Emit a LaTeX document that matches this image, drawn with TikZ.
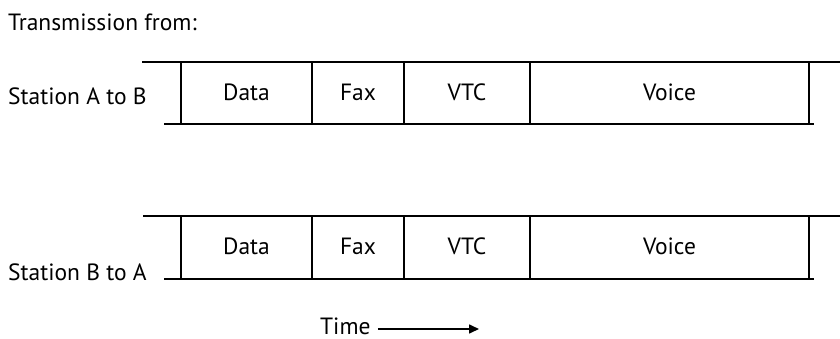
\documentclass[tikz,border=0pt]{standalone}
\usepackage{fontspec}
\setmainfont{PT Sans}
\usetikzlibrary{arrows.meta}
\begin{document}
\begin{tikzpicture}[x=1pt,y=-1pt,
  lbl/.style={font=\fontsize{23.5}{26}\selectfont, inner sep=0pt},
  cell/.style={draw=none, inner sep=0pt, minimum height=62pt},
  thin/.style={line width=1.3pt},
  thick/.style={line width=2.6pt},
  mid/.style={line width=1.6pt}]
\useasboundingbox (0,0) rectangle (840,339);
\node[lbl, anchor=west] (title) at (8,22) {Transmission from:};
% row 1
\node[lbl, anchor=west] (s1) at (8,96) {Station A to B};
\foreach \nm/\xa/\xb/\t in {ad/181/312/Data, af/312/404/Fax, av/404/530/VTC, avo/530/809/Voice}{
  \node[cell, minimum width=\xb-\xa] (\nm) at ({(\xa+\xb)/2},93) {};
  \node[lbl] at ([yshift=1pt]\nm) {\t};
}
\coordinate (t1a) at (142,62);
\coordinate (t1b) at (840,62);
\coordinate (b1a) at (164,124);
\coordinate (b1b) at (814,124);
\draw[thin] (t1a) -- (t1b);
\draw[thick] (b1a) -- (b1b);
\draw[mid] (ad.north west) -- (ad.south west);
\draw[thick] (af.north west) -- (af.south west);
\draw[thick] (av.north west) -- (av.south west);
\draw[thick] (avo.north west) -- (avo.south west);
\draw[mid] (avo.north east) -- (avo.south east);
% row 2
\node[lbl, anchor=west] (s2) at (8,272) {Station B to A};
\foreach \nm/\xa/\xb/\t in {bd/181/312/Data, bf/312/404/Fax, bv/404/530/VTC, bvo/530/809/Voice}{
  \node[cell, minimum width=\xb-\xa] (\nm) at ({(\xa+\xb)/2},247.5) {};
  \node[lbl] at ([yshift=1pt]\nm) {\t};
}
\coordinate (t2a) at (143,216);
\coordinate (t2b) at (840,216);
\coordinate (b2a) at (164,279);
\coordinate (b2b) at (814,279);
\draw[thin] (t2a) -- (t2b);
\draw[thick] (b2a) -- (b2b);
\draw[mid] (bd.north west) -- (bd.south west);
\draw[thick] (bf.north west) -- (bf.south west);
\draw[thick] (bv.north west) -- (bv.south west);
\draw[thick] (bvo.north west) -- (bvo.south west);
\draw[mid] (bvo.north east) -- (bvo.south east);
% time
\node[lbl, anchor=west] (time) at (320,326) {Time};
\coordinate (tend) at (479,329);
\path (time.east |- tend) ++(7,0) coordinate (tstart);
\draw[line width=1.6pt, -{Triangle[length=10pt,width=9pt]}] (tstart) -- (tend);
\end{tikzpicture}
\end{document}
